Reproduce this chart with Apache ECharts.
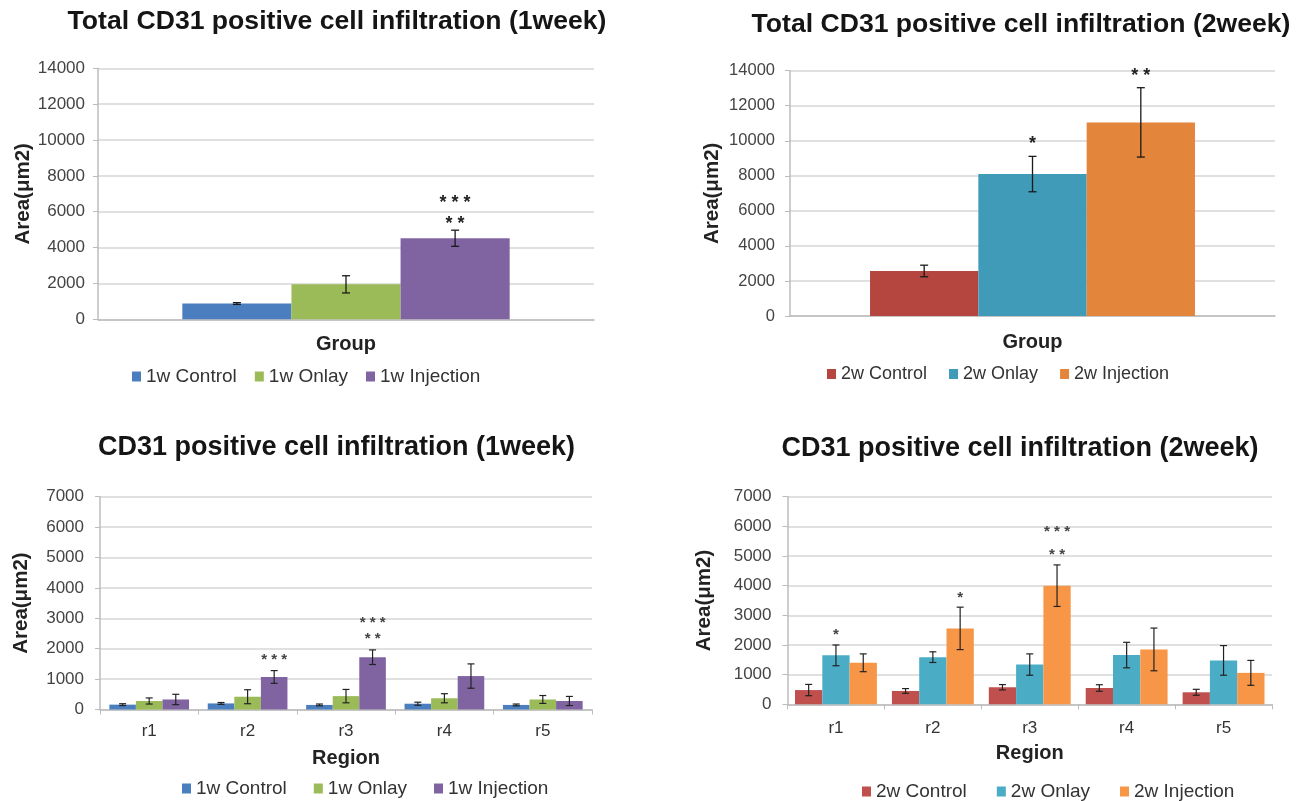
<!DOCTYPE html>
<html>
<head>
<meta charset="utf-8">
<script src="https://cdn.jsdelivr.net/npm/echarts@6/dist/echarts.min.js"></script>
<style>
  html, body { margin: 0; padding: 0; background: #ffffff; }
  .panel { position: absolute; }
</style>
</head>
<body>
<div id="p1" class="panel" style="left:0;top:0;width:650px;height:400px"></div>
<div id="p2" class="panel" style="left:650px;top:0;width:651px;height:400px"></div>
<div id="p3" class="panel" style="left:0;top:400px;width:650px;height:401px"></div>
<div id="p4" class="panel" style="left:650px;top:400px;width:651px;height:401px"></div>
<script>
// ---------------- DATA ----------------
const totalCategories = [''];
const regionCategories = ['r1', 'r2', 'r3', 'r4', 'r5'];
const week1Names = ['1w Control', '1w Onlay', '1w Injection'];
const week2Names = ['2w Control', '2w Onlay', '2w Injection'];

const titleTotal1w = 'Total CD31 positive cell infiltration (1week)';
const titleTotal2w = 'Total CD31 positive cell infiltration (2week)';
const titleRegion1w = 'CD31 positive cell infiltration (1week)';
const titleRegion2w = 'CD31 positive cell infiltration (2week)';
const yAxisName = 'Area(μm2)';
const xNameTotal = 'Group';
const xNameRegion = 'Region';

const totalTicks = [0, 2000, 4000, 6000, 8000, 10000, 12000, 14000];
const regionTicks = [0, 1000, 2000, 3000, 4000, 5000, 6000, 7000];

// Total, 1 week (one value per group)
const total1wControl = [880];   const total1wControlErr = [50];
const total1wOnlay = [1950];    const total1wOnlayErr = [480];
const total1wInjection = [4520]; const total1wInjectionErr = [450];
const total1wControlStars = [[]];
const total1wOnlayStars = [[]];
const total1wInjectionStars = [['***', '**']];

// Total, 2 weeks
const total2wControl = [2570];   const total2wControlErr = [330];
const total2wOnlay = [8100];     const total2wOnlayErr = [1010];
const total2wInjection = [11050]; const total2wInjectionErr = [1980];
const total2wControlStars = [[]];
const total2wOnlayStars = [['*']];
const total2wInjectionStars = [['**']];

// Region, 1 week
const region1wControl = [160, 200, 150, 190, 150];
const region1wControlErr = [30, 30, 30, 50, 30];
const region1wOnlay = [280, 420, 440, 370, 330];
const region1wOnlayErr = [100, 230, 220, 150, 130];
const region1wInjection = [330, 1070, 1720, 1100, 280];
const region1wInjectionErr = [170, 210, 240, 400, 150];
const region1wControlStars = [[], [], [], [], []];
const region1wOnlayStars = [[], [], [], [], []];
const region1wInjectionStars = [[], ['***'], ['***', '**'], [], []];

// Region, 2 weeks
const region2wControl = [480, 450, 575, 550, 405];
const region2wControlErr = [190, 80, 90, 110, 100];
const region2wOnlay = [1650, 1590, 1340, 1660, 1480];
const region2wOnlayErr = [350, 180, 360, 430, 500];
const region2wInjection = [1400, 2560, 4000, 1850, 1060];
const region2wInjectionErr = [300, 715, 700, 720, 420];
const region2wControlStars = [[], [], [], [], []];
const region2wOnlayStars = [['*'], [], [], [], []];
const region2wInjectionStars = [[], ['*'], ['***', '**'], [], []];

// ---------------- RENDERING ----------------
const FONT = "'Liberation Sans', Arial, Helvetica, sans-serif";

function errRenderer(idx, n, gap, stars, st) {
  return function (params, api) {
    const i = params.dataIndex;
    const cat = api.value(0), v = api.value(1), e = api.value(2);
    const band = api.size([1, 0])[0];
    const bw = band * (1 - gap) / n;
    const cx = api.coord([cat, v])[0] + (idx - (n - 1) / 2) * bw;
    const yTop = api.coord([cat, v + e])[1];
    const yBot = api.coord([cat, v - e])[1];
    const ls = { stroke: st.errColor, lineWidth: st.errWidth };
    const children = [
      { type: 'line', shape: { x1: cx, y1: yTop, x2: cx, y2: yBot }, style: ls },
      { type: 'line', shape: { x1: cx - st.cap, y1: yTop, x2: cx + st.cap, y2: yTop }, style: ls },
      { type: 'line', shape: { x1: cx - st.cap, y1: yBot, x2: cx + st.cap, y2: yBot }, style: ls }
    ];
    const lines = stars[i] || [];
    for (let k = lines.length - 1; k >= 0; k--) {
      const j = lines.length - 1 - k;
      const y = yTop - st.d1 - j * st.step;
      children.push({
        type: 'text',
        style: {
          text: lines[k].split('').join(' '),
          x: cx, y: y + st.starSize * 0.22,
          align: 'center', verticalAlign: 'middle',
          fontSize: st.starSize, fontWeight: 'bold', fontFamily: FONT,
          fill: st.starColor
        }
      });
    }
    return { type: 'group', children: children };
  };
}

function buildChart(elId, c) {
  const chart = echarts.init(document.getElementById(elId), null, { renderer: 'canvas' });
  const n = c.names.length;
  const series = [];
  c.values.forEach((vals, s) => {
    series.push({
      name: c.names[s], type: 'bar', data: vals,
      barGap: '0%', barCategoryGap: (c.gap * 100) + '%',
      itemStyle: { color: c.colors[s] },
      emphasis: { disabled: true }, silent: true, z: 2
    });
  });
  c.values.forEach((vals, s) => {
    series.push({
      type: 'custom', silent: true, z: 5,
      renderItem: errRenderer(s, n, c.gap, c.stars[s], c.st),
      data: vals.map((v, i) => [i, v, c.errs[s][i]])
    });
  });
  const option = {
    animation: false,
    textStyle: { fontFamily: FONT },
    graphic: [{
      type: 'text', x: c.titleX, y: c.titleY,
      style: { text: c.title, align: 'center', verticalAlign: 'middle',
               fontSize: c.titleSize, fontWeight: 'bold', fontFamily: FONT, fill: '#151515' }
    }],
    legend: {
      data: c.names, left: c.legendLeft, top: c.legendTop, padding: 0,
      icon: 'rect', itemWidth: 9, itemHeight: 10, itemGap: c.legendGap,
      textStyle: { fontSize: c.legendSize, color: '#333', fontFamily: FONT },
      selectedMode: false
    },
    grid: { left: c.grid[0], top: c.grid[1], right: c.grid[2], bottom: c.grid[3],
            containLabel: false, outerBoundsMode: 'none' },
    xAxis: {
      type: 'category', data: c.categories,
      name: c.xName, nameLocation: 'middle', nameGap: c.xNameGap, nameMoveOverlap: false,
      nameTextStyle: { fontSize: 20, fontWeight: 'bold', color: '#222', fontFamily: FONT },
      axisLine: { show: true, lineStyle: { color: '#bcbcbc', width: 1.5 } },
      axisTick: { show: c.categories.length > 1, alignWithLabel: false, length: 5, lineStyle: { color: '#bcbcbc' } },
      axisLabel: { show: c.categories.length > 1, margin: c.xLabelMargin, fontSize: 17, color: '#333', fontFamily: FONT },
      splitLine: { show: false }
    },
    yAxis: {
      type: 'value', min: c.ticks[0], max: c.ticks[c.ticks.length - 1],
      interval: c.ticks[1] - c.ticks[0],
      name: yAxisName, nameLocation: 'middle', nameRotate: 90, nameGap: c.yNameGap, nameMoveOverlap: false,
      nameTextStyle: { fontSize: 20.5, fontWeight: 'bold', color: '#222', fontFamily: FONT },
      axisLine: { show: true, lineStyle: { color: '#bcbcbc', width: 1.5 } },
      axisTick: { show: true, inside: false, length: 5, lineStyle: { color: '#bcbcbc' } },
      axisLabel: { margin: c.yLabelMargin, fontSize: c.tickSize, color: '#444', fontFamily: FONT,
                   formatter: function (v) { return String(v); } },
      splitLine: { show: true, lineStyle: { color: '#d6d6d6', width: 1.5 } }
    },
    series: series
  };
  chart.setOption(option);
}

const colors1w = ['#4A7EBF', '#9BBB59', '#8064A2'];
const colors2wTop = ['#B4463F', '#3F9BB7', '#E3863C'];
const colors2wBottom = ['#C0504D', '#4BACC6', '#F79646'];

buildChart('p1', {
  title: titleTotal1w, titleX: 337, titleY: 22, titleSize: 26.6,
  categories: totalCategories, names: week1Names, colors: colors1w,
  values: [total1wControl, total1wOnlay, total1wInjection],
  errs: [total1wControlErr, total1wOnlayErr, total1wInjectionErr],
  stars: [total1wControlStars, total1wOnlayStars, total1wInjectionStars],
  ticks: totalTicks, gap: 0.34,
  grid: [98, 68.3, 56, 80.7],
  xName: xNameTotal, xNameGap: 15, xLabelMargin: 12,
  yNameGap: 64, yLabelMargin: 13, tickSize: 17,
  legendLeft: 132, legendTop: 367, legendGap: 18, legendSize: 19,
  st: { errColor: '#1a1a1a', errWidth: 1.3, cap: 4, d1: 10, step: 21, starSize: 18, starColor: '#222' }
});

buildChart('p2', {
  title: titleTotal2w, titleX: 371, titleY: 25, titleSize: 26.6,
  categories: totalCategories, names: week2Names, colors: colors2wTop,
  values: [total2wControl, total2wOnlay, total2wInjection],
  errs: [total2wControlErr, total2wOnlayErr, total2wInjectionErr],
  stars: [total2wControlStars, total2wOnlayStars, total2wInjectionStars],
  ticks: totalTicks, gap: 0.33,
  grid: [140, 70.7, 26, 84],
  xName: xNameTotal, xNameGap: 16, xLabelMargin: 12,
  yNameGap: 67, yLabelMargin: 15, tickSize: 16.5,
  legendLeft: 177, legendTop: 365, legendGap: 22, legendSize: 18,
  st: { errColor: '#1a1a1a', errWidth: 1.3, cap: 4, d1: 16, step: 21, starSize: 18, starColor: '#222' }
});

buildChart('p3', {
  title: titleRegion1w, titleX: 336.5, titleY: 48, titleSize: 27,
  categories: regionCategories, names: week1Names, colors: colors1w,
  values: [region1wControl, region1wOnlay, region1wInjection],
  errs: [region1wControlErr, region1wOnlayErr, region1wInjectionErr],
  stars: [region1wControlStars, region1wOnlayStars, region1wInjectionStars],
  ticks: regionTicks, gap: 0.19,
  grid: [100, 96.7, 58, 91.5],
  xName: xNameRegion, xNameGap: 38.5, xLabelMargin: 13,
  yNameGap: 68, yLabelMargin: 16, tickSize: 17,
  legendLeft: 182, legendTop: 379, legendGap: 27, legendSize: 19,
  st: { errColor: '#222', errWidth: 1.2, cap: 3.5, d1: 14, step: 16, starSize: 15, starColor: '#444' }
});

buildChart('p4', {
  title: titleRegion2w, titleX: 370, titleY: 49, titleSize: 27,
  categories: regionCategories, names: week2Names, colors: colors2wBottom,
  values: [region2wControl, region2wOnlay, region2wInjection],
  errs: [region2wControlErr, region2wOnlayErr, region2wInjectionErr],
  stars: [region2wControlStars, region2wOnlayStars, region2wInjectionStars],
  ticks: regionTicks, gap: 0.155,
  grid: [137.5, 96.7, 29, 96.7],
  xName: xNameRegion, xNameGap: 38.7, xLabelMargin: 16,
  yNameGap: 72.5, yLabelMargin: 16, tickSize: 17,
  legendLeft: 212, legendTop: 382, legendGap: 30, legendSize: 19,
  st: { errColor: '#222', errWidth: 1.2, cap: 3.5, d1: 13, step: 23, starSize: 15, starColor: '#444' }
});
</script>
</body>
</html>
